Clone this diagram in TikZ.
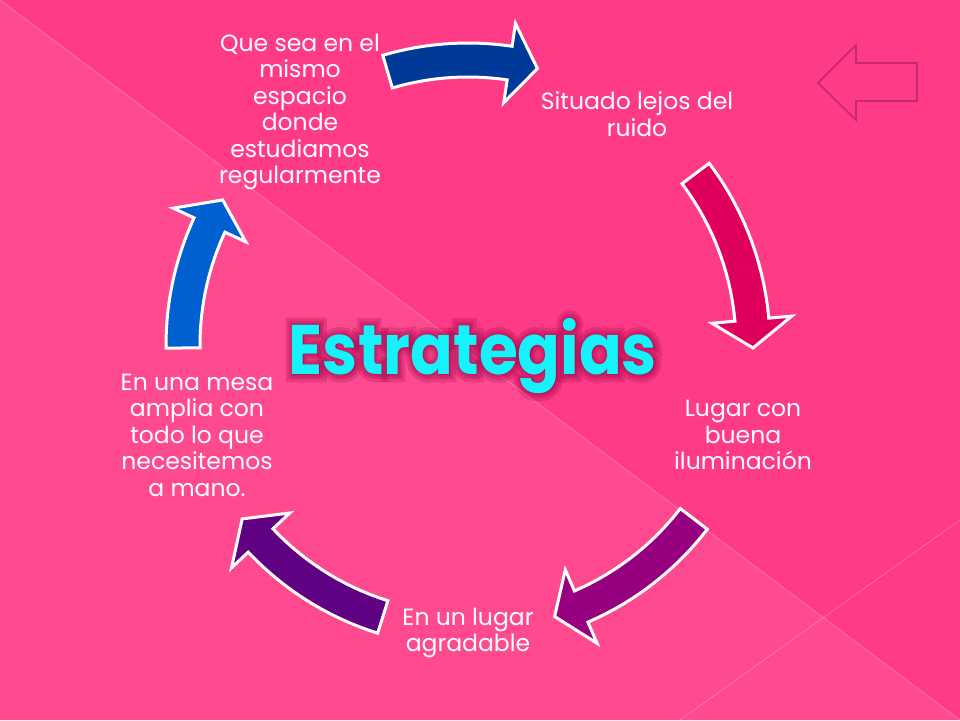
\documentclass[tikz,border=0pt]{standalone}
\usepackage{fontspec}
\setmainfont{Poppins}
\newfontfamily\glowA{Poppins Bold}[FakeBold=6]
\newfontfamily\glowB{Poppins Bold}[FakeBold=13]
\newfontfamily\glowC{Poppins Bold}[FakeBold=22]
\definecolor{bgmain}{RGB}{255,58,134}
\definecolor{bglight}{RGB}{255,74,143}
\definecolor{cBlue}{RGB}{0,58,152}
\definecolor{cRed}{RGB}{222,0,92}
\definecolor{cMag}{RGB}{150,0,128}
\definecolor{cPurp}{RGB}{96,0,130}
\definecolor{cLBlue}{RGB}{0,96,208}
\definecolor{titlecyan}{RGB}{20,242,250}
\definecolor{glowcol}{RGB}{150,0,70}
\definecolor{navcol}{RGB}{200,40,110}
\newcommand\cycarrow[3]{%
  \pgfmathsetmacro\arrHB{#2-5.7}%
  \filldraw[#3, draw=white, line width=3pt, line join=miter]
    plot[domain=#1:\arrHB, samples=16] ({468+302*cos(\x)},{345+302*sin(\x)})
    -- ({468+325*cos(\arrHB)},{345+325*sin(\arrHB)})
    -- ({468+285*cos(#2)},{345+285*sin(#2)})
    -- ({468+245*cos(\arrHB)},{345+245*sin(\arrHB)})
    -- plot[domain=\arrHB:#1, samples=16] ({468+268*cos(\x)},{345+268*sin(\x)})
    -- cycle;}
\tikzset{
  lbl/.style={text=white, align=center, font=\fontsize{23.5}{26.5}\selectfont, inner sep=0pt},
  titlestyle/.style={font=\fontsize{70}{80}\selectfont\bfseries, inner sep=0pt, xscale=0.9},
  glowstyle/.style={inner sep=0pt, xscale=0.9, text=glowcol, opacity=0.22},
}
\begin{document}
\begin{tikzpicture}[x=1pt,y=-1pt]
\useasboundingbox (0,0) rectangle (960,720);
% background
\fill[bgmain] (0,0) rectangle (960,720);
\fill[bglight] (0,0) -- (960,720) -- (0,720) -- cycle;
\draw[white, opacity=0.25, line width=0.8pt] (0,0) -- (960,720);
\draw[white, opacity=0.25, line width=0.8pt] (680,720) -- (960,520);
% navigation arrow (top right)
\draw[navcol, line width=1.6pt, line join=miter]
  (818,83) -- (856,45) -- (856,63) -- (917,63) -- (917,101) -- (856,101) -- (856,120) -- cycle;
% cycle arrows
\cycarrow{-106.4}{-75.9}{cBlue}
\cycarrow{-37}{0.6}{cRed}
\cycarrow{37.6}{72.3}{cMag}
\cycarrow{107.4}{142.4}{cPurp}
\cycarrow{179.4}{210.6}{cLBlue}
% labels
\node[lbl] (n1) at (300,112) {Que sea en el\\mismo\\espacio\\donde\\estudiamos\\regularmente};
\node[lbl] (n2) at (637,114) {Situado lejos del\\ruido};
\node[lbl] (n3) at (743,435) {Lugar con\\buena\\iluminación};
\node[lbl] (n4) at (468,633) {En un lugar\\agradable};
\node[lbl] (n5) at (197,435) {En una mesa\\amplia con\\todo lo que\\necesitemos\\a mano.};
% title with glow
\node[glowstyle, font=\glowC\fontsize{70}{80}\selectfont] (g3) at (473,356) {Estrategias};
\node[glowstyle, font=\glowB\fontsize{70}{80}\selectfont] (g2) at (473,356) {Estrategias};
\node[glowstyle, font=\glowA\fontsize{70}{80}\selectfont] (g1) at (473,356) {Estrategias};
\node[titlestyle, text=titlecyan] (title) at (473,356) {Estrategias};
\end{tikzpicture}
\end{document}
